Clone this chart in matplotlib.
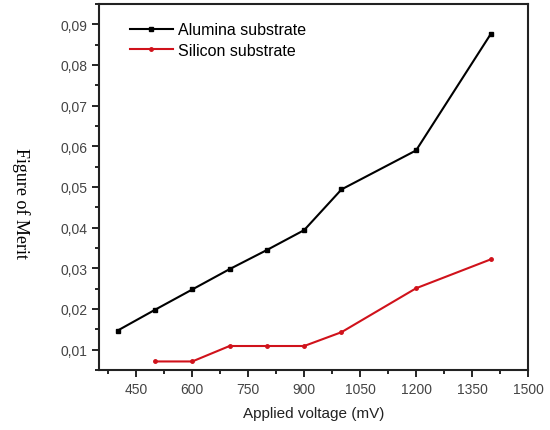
import matplotlib.pyplot as plt
from matplotlib.ticker import MultipleLocator, FuncFormatter

plt.rcParams['font.family'] = ['Liberation Sans', 'DejaVu Sans']

voltage_alumina = [400, 500, 600, 700, 800, 900, 1000, 1200, 1400]
fom_alumina = [0.0147, 0.0198, 0.0248, 0.0298, 0.0345, 0.0394, 0.0494, 0.0590, 0.0876]
voltage_silicon = [500, 600, 700, 800, 900, 1000, 1200, 1400]
fom_silicon = [0.0071, 0.0071, 0.0109, 0.0109, 0.0109, 0.0143, 0.0251, 0.0322]

fig = plt.figure(figsize=(5.5, 4.31), dpi=100)
ax = fig.add_axes([99 / 550, 1 - 371 / 431, 429 / 550, 366 / 431])

ax.plot(voltage_alumina, fom_alumina, color='black', lw=1.5, marker='s', ms=2.5,
        label='Alumina substrate')
ax.plot(voltage_silicon, fom_silicon, color='#d0121b', lw=1.5, marker='o', ms=2.5,
        label='Silicon substrate')

ax.set_xlim(350, 1500)
ax.set_ylim(0.005, 0.095)
ax.xaxis.set_major_locator(MultipleLocator(150))
ax.xaxis.set_minor_locator(MultipleLocator(75))
ax.yaxis.set_major_locator(MultipleLocator(0.01))
ax.yaxis.set_minor_locator(MultipleLocator(0.005))
ax.yaxis.set_major_formatter(FuncFormatter(lambda v, p: ('%.2f' % v).replace('.', ',')))
ax.set_xticks([450, 600, 750, 900, 1050, 1200, 1350, 1500])

ax.tick_params(which='both', direction='out', top=False, right=False,
               labelsize=10, labelcolor='#444444', width=1.2)
ax.tick_params(which='major', length=5)
ax.tick_params(which='minor', length=3)
for s in ax.spines.values():
    s.set_linewidth(1.5)
    s.set_color('#222222')

ax.set_xlabel('Applied voltage (mV)', fontsize=11, color='#222222', labelpad=7)
fig.text(0.038, 0.529, 'Figure of Merit', rotation=270, family='Liberation Serif',
         fontsize=13, ha='center', va='center')

ax.legend(loc='upper left', frameon=False, fontsize=11.5, handlelength=2.7,
          handletextpad=0.3, borderaxespad=0.4, labelspacing=0.35,
          bbox_to_anchor=(0.042, 0.985))

fig.savefig('out.png', dpi=100)
